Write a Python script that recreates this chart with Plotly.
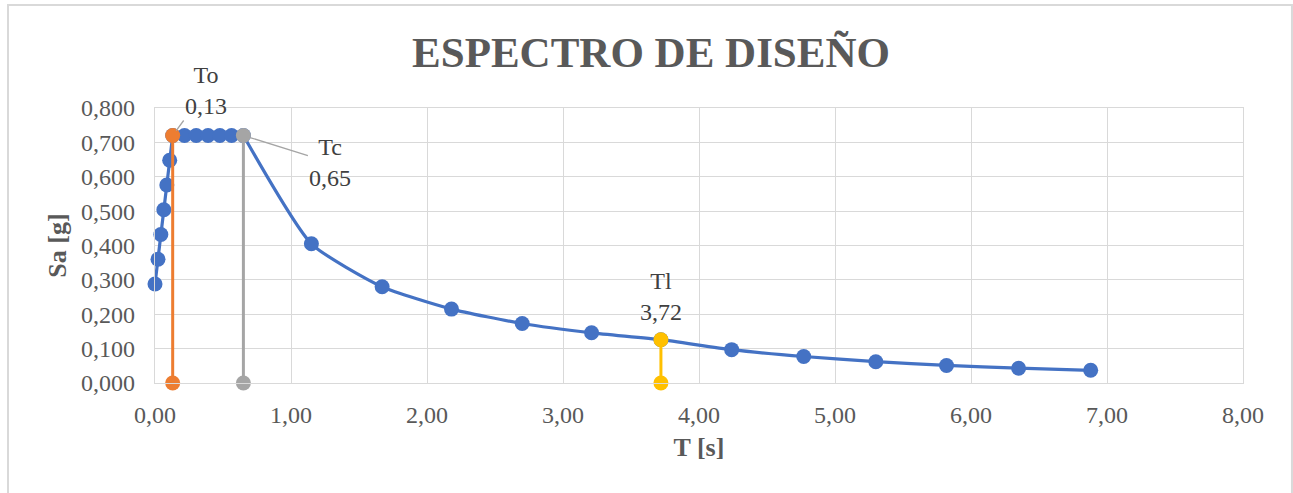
import plotly.graph_objects as go

# Design spectrum points: period T [s] and spectral acceleration Sa [g]
T_vals = [0.000, 0.022, 0.043, 0.065, 0.087, 0.108, 0.130,
          0.217, 0.303, 0.390, 0.477, 0.563, 0.650,
          1.150, 1.670, 2.180, 2.700, 3.210, 3.720,
          4.240, 4.770, 5.300, 5.820, 6.350, 6.880]
Sa_vals = [0.288, 0.360, 0.432, 0.504, 0.576, 0.648, 0.720,
           0.720, 0.720, 0.720, 0.720, 0.720, 0.720,
           0.405, 0.280, 0.215, 0.173, 0.146, 0.126,
           0.097, 0.077, 0.062, 0.051, 0.043, 0.037]

# Characteristic periods
To = 0.13
Tc = 0.65
Tl = 3.72
Sa_plateau = 0.72
Sa_Tl = 0.126

x_ticks = [0, 1, 2, 3, 4, 5, 6, 7, 8]
x_tick_text = ["0,00", "1,00", "2,00", "3,00", "4,00", "5,00", "6,00", "7,00", "8,00"]
y_ticks = [0, 0.1, 0.2, 0.3, 0.4, 0.5, 0.6, 0.7, 0.8]
y_tick_text = ["0,000", "0,100", "0,200", "0,300", "0,400", "0,500", "0,600", "0,700", "0,800"]

BLUE = "#4472C4"
ORANGE = "#ED7D31"
GRAY = "#A5A5A5"
YELLOW = "#FFC000"
GRID = "#D9D9D9"
TXT = "#595959"
FONT = "Liberation Serif"

fig = go.Figure()

# Rising branch and plateau drawn straight, descending branch smoothed
i_tc = T_vals.index(Tc)
fig.add_trace(go.Scatter(x=T_vals[:i_tc + 1], y=Sa_vals[:i_tc + 1], mode="lines",
                         line=dict(color=BLUE, width=3.2), cliponaxis=False,
                         hoverinfo="skip", showlegend=False))
fig.add_trace(go.Scatter(x=T_vals[i_tc:], y=Sa_vals[i_tc:], mode="lines",
                         line=dict(color=BLUE, width=3.2, shape="spline", smoothing=0.55),
                         cliponaxis=False, hoverinfo="skip", showlegend=False))
fig.add_trace(go.Scatter(x=T_vals, y=Sa_vals, mode="markers",
                         marker=dict(color=BLUE, size=15), cliponaxis=False,
                         showlegend=False))

# Vertical markers at To, Tc and Tl
for tv, top, col in [(To, Sa_plateau, ORANGE), (Tc, Sa_plateau, GRAY), (Tl, Sa_Tl, YELLOW)]:
    fig.add_trace(go.Scatter(x=[tv, tv], y=[0, top], mode="lines+markers",
                             line=dict(color=col, width=3),
                             marker=dict(color=col, size=15),
                             cliponaxis=False, showlegend=False))

lbl_font = dict(family=FONT, size=24, color="#404040")
fig.add_annotation(x=To, y=Sa_plateau, text="To<br>0,13", showarrow=True,
                   arrowhead=0, arrowwidth=1.3, arrowcolor=GRAY, ax=33, ay=-45,
                   standoff=6, font=lbl_font)
fig.add_annotation(x=Tc, y=Sa_plateau, text="Tc<br>0,65", showarrow=True,
                   arrowhead=0, arrowwidth=1.3, arrowcolor=GRAY, ax=87, ay=27,
                   standoff=6, font=lbl_font)
fig.add_annotation(x=Tl, y=Sa_Tl, text="Tl<br>3,72", showarrow=False,
                   yshift=43, font=lbl_font)

# Outer chart frame
fig.add_shape(type="rect", xref="paper", yref="paper",
              x0=-0.1351, x1=1.045, y0=-0.41, y1=1.3745,
              line=dict(color=GRID, width=2), fillcolor="rgba(0,0,0,0)", layer="below")

fig.update_layout(
    width=1293, height=493,
    margin=dict(l=155, r=50, t=108, b=110),
    paper_bgcolor="white", plot_bgcolor="white",
    title=dict(text="<b>ESPECTRO DE DISEÑO</b>", x=0.5035, xanchor="center",
               y=0.8945, yanchor="middle",
               font=dict(family=FONT, size=43, color=TXT)),
    xaxis=dict(range=[0, 8], tickvals=x_ticks, ticktext=x_tick_text,
               showgrid=True, gridcolor=GRID, gridwidth=1.3,
               showline=True, linecolor=GRID, linewidth=1.3, mirror=True,
               zeroline=False, ticks="", ticklabelstandoff=10,
               tickfont=dict(family=FONT, size=24, color=TXT),
               title=dict(text="<b>T [s]</b>", standoff=10,
                          font=dict(family=FONT, size=26, color=TXT))),
    yaxis=dict(range=[0, 0.8], tickvals=y_ticks, ticktext=y_tick_text,
               showgrid=True, gridcolor=GRID, gridwidth=1.3,
               showline=True, linecolor=GRID, linewidth=1.3, mirror=True,
               zeroline=False, ticks="", ticklabelstandoff=14,
               tickfont=dict(family=FONT, size=24, color=TXT),
               title=dict(text="<b>Sa [g]</b>", standoff=6,
                          font=dict(family=FONT, size=26, color=TXT))),
)

fig.write_html("out.html")
